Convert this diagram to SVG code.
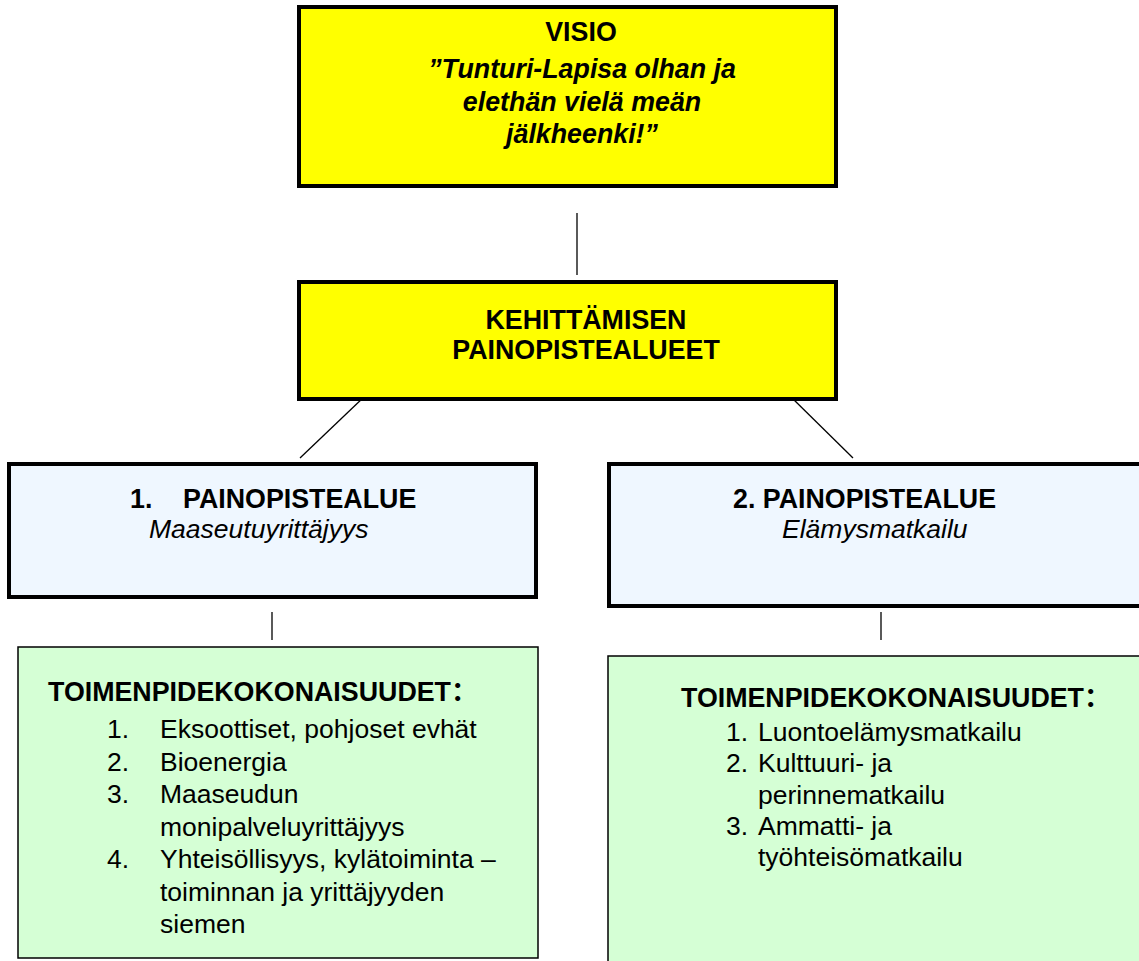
<svg xmlns="http://www.w3.org/2000/svg" width="1139" height="961" viewBox="0 0 1139 961">
  <style>
    .t { font-family: "Liberation Sans", Arial, "Noto Sans CJK SC", sans-serif; font-size: 26.5px; fill: #000; }
    .b { font-weight: bold; font-size: 26.8px; }
    .i { font-style: italic; }
    .c { text-anchor: middle; }
    .yellow { fill: #FFFF00; stroke: #000; stroke-width: 4; }
    .blue { fill: #EFF7FF; stroke: #000; stroke-width: 4; }
    .green { fill: #D5FFD5; stroke: #000; stroke-width: 1.5; }
    .conn line { stroke: #000; stroke-width: 1.3; }
  </style>
  <rect width="1139" height="961" fill="#FFFFFF"/>

  <g id="connectors" class="conn">
    <line x1="577" y1="213" x2="577" y2="275"/>
    <line x1="365" y1="396" x2="300" y2="458"/>
    <line x1="790" y1="396" x2="853" y2="458"/>
    <line x1="272" y1="612" x2="272" y2="640"/>
    <line x1="881" y1="612" x2="881" y2="640"/>
  </g>

  <g id="visio">
    <rect class="yellow" x="299" y="7" width="537" height="179"/>
    <text class="t b c" x="581" y="41">VISIO</text>
    <text class="t b i c" x="582" y="78">”Tunturi-Lapisa olhan ja</text>
    <text class="t b i c" x="582" y="111">elethän vielä meän</text>
    <text class="t b i c" x="582" y="143">jälkheenki!”</text>
  </g>

  <g id="kehittamisen">
    <rect class="yellow" x="299" y="282" width="537" height="117"/>
    <text class="t b c" x="586" y="329">KEHITTÄMISEN</text>
    <text class="t b c" x="586" y="359">PAINOPISTEALUEET</text>
  </g>

  <g id="painopistealue1">
    <rect class="blue" x="9" y="464" width="527" height="133"/>
    <text class="t b" x="130" y="508">1.</text>
    <text class="t b" x="183" y="508">PAINOPISTEALUE</text>
    <text class="t i" x="149" y="538">Maaseutuyrittäjyys</text>
  </g>

  <g id="painopistealue2">
    <rect class="blue" x="609" y="464" width="540" height="142"/>
    <text class="t b" x="733" y="508">2. PAINOPISTEALUE</text>
    <text class="t i" x="782" y="538">Elämysmatkailu</text>
  </g>

  <g id="toimenpiteet1">
    <rect class="green" x="18" y="647" width="520" height="311"/>
    <text class="t b" x="48" y="701">TOIMENPIDEKOKONAISUUDET：</text>
    <text class="t" x="107" y="738">1.</text>
    <text class="t" x="160" y="738">Eksoottiset, pohjoset evhät</text>
    <text class="t" x="107" y="771">2.</text>
    <text class="t" x="160" y="771">Bioenergia</text>
    <text class="t" x="107" y="803">3.</text>
    <text class="t" x="160" y="803">Maaseudun</text>
    <text class="t" x="160" y="836">monipalveluyrittäjyys</text>
    <text class="t" x="107" y="868">4.</text>
    <text class="t" x="160" y="868">Yhteisöllisyys, kylätoiminta –</text>
    <text class="t" x="160" y="901">toiminnan ja yrittäjyyden</text>
    <text class="t" x="160" y="933">siemen</text>
  </g>

  <g id="toimenpiteet2">
    <rect class="green" x="608" y="656" width="545" height="320"/>
    <text class="t b" x="681" y="707">TOIMENPIDEKOKONAISUUDET：</text>
    <text class="t" x="726" y="741">1.</text>
    <text class="t" x="758" y="741">Luontoelämysmatkailu</text>
    <text class="t" x="726" y="772">2.</text>
    <text class="t" x="758" y="772">Kulttuuri- ja</text>
    <text class="t" x="758" y="804">perinnematkailu</text>
    <text class="t" x="726" y="835">3.</text>
    <text class="t" x="758" y="835">Ammatti- ja</text>
    <text class="t" x="758" y="866">työhteisömatkailu</text>
  </g>
</svg>
